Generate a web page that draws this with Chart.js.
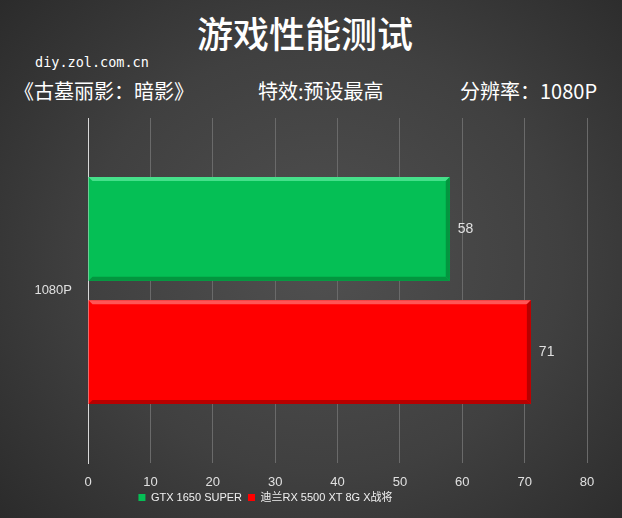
<!DOCTYPE html>
<html>
<head>
<meta charset="utf-8">
<script src="https://cdn.jsdelivr.net/npm/chart.js@4"></script>
<style>
  html, body { margin: 0; padding: 0; }
  body {
    width: 622px; height: 518px; overflow: hidden; position: relative;
    background: radial-gradient(ellipse 70% 75% at 52% 50%, #505050 0%, #404040 55%, #2b2b2b 100%);
    font-family: "Noto Sans CJK SC", sans-serif; color: #fff;
  }
  .txt { position: absolute; white-space: nowrap; }
  #title { left: 0; width: 610px; top: 6px; text-align: center; font-size: 36px; font-weight: 500; }
  #site { left: 35px; top: 54px; font-family: "DejaVu Sans Mono", monospace; font-size: 13.5px; }
  .sub { top: 76px; font-size: 20px; }
  #wrap { position: absolute; left: 0; top: 0; width: 622px; height: 518px; }
</style>
</head>
<body>
<div class="txt" id="title">游戏性能测试</div>
<div class="txt" id="site">diy.zol.com.cn</div>
<div class="txt sub" style="left:14px">《古墓丽影：暗影》</div>
<div class="txt sub" style="left:258px">特效:预设最高</div>
<div class="txt sub" style="left:460px">分辨率：1080P</div>
<div id="wrap"><canvas id="graph" width="622" height="518"></canvas></div>
<script>
var categories = ["1080P"];
var seriesNames = ["GTX 1650 SUPER", "迪兰RX 5500 XT 8G X战将"];
var gtxValues = [58];
var rxValues = [71];
var xTicks = [0, 10, 20, 30, 40, 50, 60, 70, 80];

var bevelColors = [["#45e08a", "#03963f"], ["#ff5555", "#b80000"]];

// effet relief sur les barres
var bevel = {
  id: "bevel",
  afterDatasetsDraw(chart) {
    var ctx = chart.ctx;
    ctx.save();
    chart.data.datasets.forEach((ds, d) => {
      chart.getDatasetMeta(d).data.forEach((bar) => {
        var l = bar.base, r = bar.x, t = bar.y - bar.height / 2, b = bar.y + bar.height / 2, w = 4;
        ctx.fillStyle = bevelColors[d][0];
        ctx.beginPath();
        ctx.moveTo(l, t); ctx.lineTo(r, t); ctx.lineTo(r - w, t + w); ctx.lineTo(l + w, t + w);
        ctx.fill();
        ctx.fillStyle = bevelColors[d][1];
        ctx.beginPath();
        ctx.moveTo(l, b); ctx.lineTo(r, b); ctx.lineTo(r - w, b - w); ctx.lineTo(l + w, b - w);
        ctx.fill();
        ctx.beginPath();
        ctx.moveTo(r, t); ctx.lineTo(r, b); ctx.lineTo(r - w, b - w); ctx.lineTo(r - w, t + w);
        ctx.fill();
      });
    });
    ctx.restore();
  }
};

// valeurs au bout des barres
var valueLabels = {
  id: "valueLabels",
  afterDatasetsDraw(chart) {
    var ctx = chart.ctx;
    ctx.save();
    ctx.fillStyle = "#e0e0e0";
    ctx.font = "14px 'Liberation Sans', sans-serif";
    ctx.textBaseline = "middle";
    chart.data.datasets.forEach((ds, d) => {
      chart.getDatasetMeta(d).data.forEach((bar, k) => {
        ctx.fillText(ds.data[k], bar.x + 8, bar.y);
      });
    });
    ctx.restore();
  }
};

// petit decalage de la legende vers la gauche
var legendShift = {
  id: "legendShift",
  afterLayout(chart) {
    chart.legend.left -= 28;
    chart.legend.right -= 28;
  }
};

var graph = document.getElementById("graph").getContext("2d");
var myChart = new Chart(graph, {
  type: "bar",
  data: {
    labels: categories,
    datasets: [{
      label: seriesNames[0],
      data: gtxValues,
      backgroundColor: "#05bf55",
      borderWidth: 0,
      categoryPercentage: 0.715,
      barPercentage: 0.84
    }, {
      label: seriesNames[1],
      data: rxValues,
      backgroundColor: "#ff0000",
      borderWidth: 0,
      categoryPercentage: 0.715,
      barPercentage: 0.84
    }]
  },
  options: {
    indexAxis: "y",
    responsive: false,
    animation: false,
    layout: { padding: { top: 118, right: 35, bottom: 5, left: 0 } },
    scales: {
      x: {
        min: 0, max: 80,
        afterBuildTicks: (s) => { s.ticks = xTicks.map(v => ({ value: v })); },
        grid: { color: "#6a6a6a", drawTicks: false },
        border: { display: false },
        ticks: { color: "#e0e0e0", padding: 12, font: { size: 13, family: "'Liberation Sans', sans-serif" } },
        afterFit: (s) => { s.height = 23; }
      },
      y: {
        grid: { display: false, drawTicks: false },
        border: { color: "#d8d8d8", width: 1 },
        ticks: { color: "#e0e0e0", padding: 16, font: { size: 13, family: "'Liberation Sans', sans-serif" } },
        afterFit: (s) => { s.width = 88; }
      }
    },
    plugins: {
      legend: {
        position: "bottom",
        labels: {
          color: "#f0f0f0",
          boxWidth: 7, boxHeight: 7,
          padding: 6,
          font: { size: 11, family: "'Liberation Sans', 'Noto Sans CJK SC', sans-serif" }
        }
      },
      tooltip: { enabled: false }
    }
  },
  plugins: [bevel, valueLabels, legendShift]
});
</script>
</body>
</html>
